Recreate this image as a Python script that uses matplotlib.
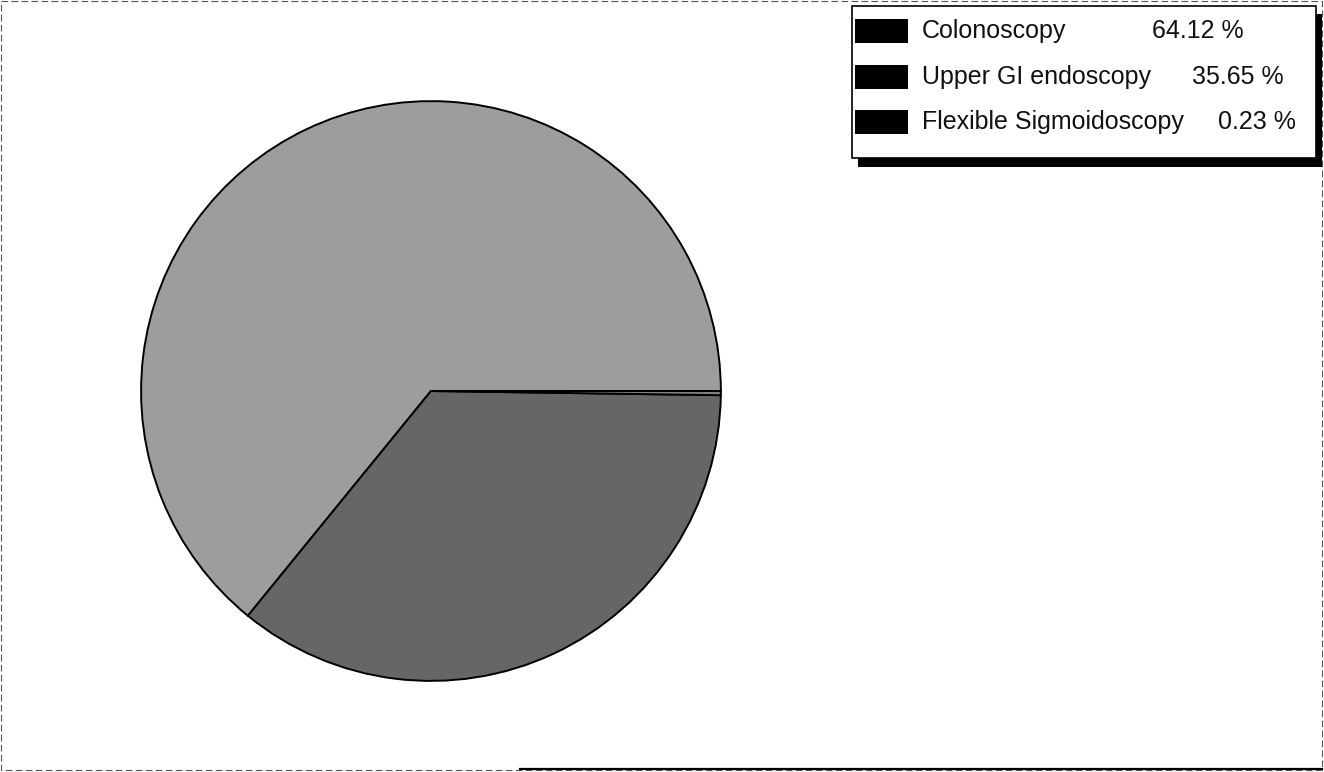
"""Pie chart of endoscopy procedure shares with a boxed legend."""

import matplotlib

matplotlib.use("Agg")
import matplotlib.pyplot as plt  # noqa: E402
from matplotlib.patches import Rectangle  # noqa: E402

procedures = ["Colonoscopy", "Upper GI endoscopy", "Flexible Sigmoidoscopy"]
shares = [64.12, 35.65, 0.23]
slice_colors = ["#9d9d9d", "#666666", "#808080"]

plt.rcParams["font.family"] = ["Liberation Sans", "DejaVu Sans"]

fig = plt.figure(figsize=(13.24, 7.72), dpi=100)

# pie
ax = fig.add_axes([0.1065, 0.118, 0.438, 0.751])
ax.pie(
    shares,
    colors=slice_colors,
    startangle=0,
    counterclock=True,
    radius=1.0,
    wedgeprops={"edgecolor": "black", "linewidth": 1.4},
)
ax.set_xlim(-1.0, 1.0)
ax.set_ylim(-1.0, 1.0)
ax.set_aspect("equal")
ax.axis("off")

# overlay in pixel coordinates for legend and frame
ov = fig.add_axes([0, 0, 1, 1], facecolor="none")
ov.set_xlim(0, 1324)
ov.set_ylim(772, 0)
ov.axis("off")

# outer frame
ov.add_patch(Rectangle((1, 1), 1321, 769, fill=False, edgecolor="#555555",
                       linewidth=0.8, linestyle=(0, (6, 3))))
ov.plot([520, 1322], [769, 769], color="black", linewidth=1.6)

# legend box with drop shadow
ov.add_patch(Rectangle((858, 14), 464, 153, facecolor="black", edgecolor="none"))
ov.add_patch(Rectangle((852, 6), 464, 152, facecolor="white", edgecolor="black",
                       linewidth=1.2))

row_y = [31, 77, 122]
pct_x = [1152, 1192, 1218]
for name, val, y, px in zip(procedures, shares, row_y, pct_x):
    ov.add_patch(Rectangle((855, y - 12), 53, 24, facecolor="black", edgecolor="none"))
    ov.text(922, y, name, fontsize=18, va="center", ha="left", color="#111111")
    ov.text(px, y, f"{val:.2f} %", fontsize=18, va="center", ha="left", color="#111111")

fig.savefig("out.png", dpi=100)
